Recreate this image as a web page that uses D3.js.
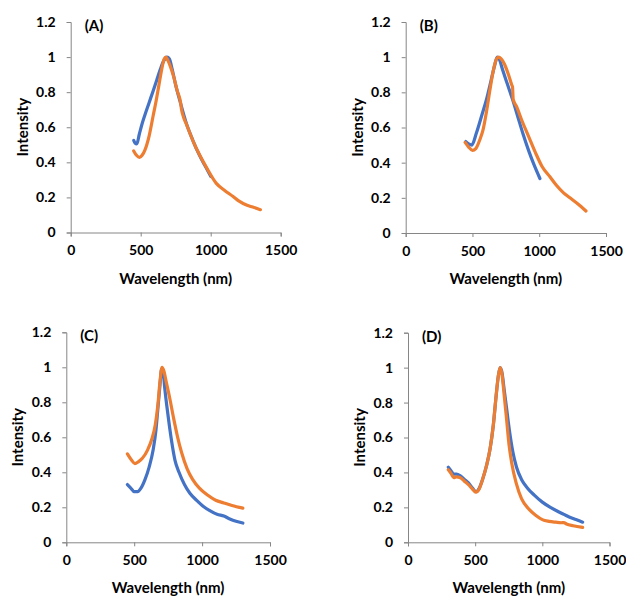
<!DOCTYPE html>
<html>
<head>
<meta charset="utf-8">
<script src="https://cdnjs.cloudflare.com/ajax/libs/d3/7.8.5/d3.min.js"></script>
<style>
  body { margin: 0; background: #fff; }
  svg text { font-family: Lato, "Open Sans", sans-serif; font-weight: bold; fill: #000; }
</style>
</head>
<body>
<svg id="chart" width="626" height="596"></svg>
<script>
// [wavelength nm, intensity]
const aBlue = [[450,0.525],[460,0.51],[472,0.505],[490,0.56],[510,0.62],[530,0.67],[560,0.74],[590,0.81],[615,0.87],[640,0.93],[665,0.98],[688,1.0],[705,0.99],[725,0.93],[750,0.84],[780,0.75],[827,0.62],[870,0.53],[920,0.44],[960,0.38],[1000,0.32]];
const aOrange = [[450,0.465],[470,0.44],[492,0.428],[510,0.44],[530,0.47],[560,0.55],[590,0.67],[610,0.75],[630,0.84],[650,0.93],[668,0.99],[680,1.0],[695,0.98],[715,0.94],[735,0.89],[760,0.81],[785,0.74],[792,0.70],[805,0.66],[830,0.61],[851,0.567],[880,0.51],[922,0.44],[970,0.37],[1040,0.28],[1100,0.24],[1160,0.205],[1200,0.18],[1260,0.155],[1300,0.145],[1355,0.13]];

const bBlue = [[450,0.52],[475,0.505],[495,0.50],[530,0.57],[570,0.67],[605,0.76],[640,0.87],[665,0.95],[685,1.0],[700,0.99],[725,0.93],[760,0.85],[800,0.76],[840,0.66],[880,0.56],[920,0.47],[960,0.39],[1005,0.31]];
const bOrange = [[445,0.515],[470,0.49],[500,0.47],[525,0.48],[555,0.53],[580,0.59],[605,0.69],[630,0.81],[655,0.92],[680,0.99],[695,1.0],[715,0.99],[740,0.96],[770,0.90],[795,0.84],[800,0.83],[805,0.76],[830,0.72],[870,0.64],[920,0.55],[970,0.46],[1020,0.38],[1080,0.32],[1130,0.27],[1180,0.23],[1230,0.20],[1290,0.165],[1350,0.125]];

const cBlue = [[450,0.33],[475,0.31],[500,0.29],[525,0.29],[550,0.31],[580,0.36],[610,0.43],[640,0.53],[660,0.64],[675,0.77],[690,0.90],[702,0.99],[712,0.98],[725,0.88],[740,0.78],[755,0.69],[775,0.58],[800,0.47],[830,0.40],[870,0.33],[910,0.28],[960,0.24],[1010,0.205],[1060,0.18],[1110,0.16],[1160,0.15],[1200,0.135],[1250,0.12],[1300,0.11]];
const cOrange = [[450,0.505],[480,0.47],[505,0.45],[530,0.46],[560,0.48],[600,0.53],[630,0.59],[655,0.67],[675,0.79],[690,0.92],[705,1.0],[718,0.98],[735,0.92],[760,0.83],[790,0.71],[820,0.60],[850,0.51],[890,0.42],[930,0.36],[980,0.31],[1040,0.27],[1100,0.24],[1160,0.225],[1220,0.21],[1300,0.195]];

const dBlue = [[300,0.43],[320,0.41],[340,0.39],[360,0.39],[390,0.38],[420,0.36],[450,0.34],[480,0.31],[505,0.29],[530,0.31],[555,0.36],[585,0.44],[612,0.54],[635,0.67],[655,0.83],[672,0.95],[686,1.0],[700,0.97],[715,0.88],[735,0.76],[755,0.64],[780,0.52],[808,0.43],[845,0.36],[890,0.31],[940,0.27],[1000,0.23],[1060,0.2],[1120,0.175],[1160,0.16],[1200,0.145],[1250,0.13],[1300,0.115]];
const dOrange = [[300,0.415],[320,0.395],[340,0.37],[360,0.375],[390,0.37],[420,0.35],[450,0.33],[480,0.305],[505,0.287],[530,0.305],[555,0.36],[585,0.44],[612,0.54],[635,0.67],[655,0.83],[672,0.95],[686,1.0],[700,0.96],[715,0.85],[732,0.72],[752,0.56],[773,0.45],[805,0.34],[845,0.25],[900,0.19],[950,0.155],[1000,0.13],[1050,0.12],[1100,0.115],[1140,0.112],[1160,0.113],[1180,0.105],[1230,0.095],[1300,0.085]];

const xTicks = [0, 500, 1000, 1500];
const yTicks = [0, 0.2, 0.4, 0.6, 0.8, 1, 1.2];
const panelLabels = ['(A)', '(B)', '(C)', '(D)'];
const seriesColors = ['#4472C4', '#ED7D31'];

// plot boxes in px: left, right, top, bottom
const panels = [
  { label: panelLabels[0], series: [aBlue, aOrange], x0: 70.7, x1: 280.7, y0: 22, y1: 232.5 },
  { label: panelLabels[1], series: [bBlue, bOrange], x0: 405.7, x1: 606, y0: 22, y1: 233 },
  { label: panelLabels[2], series: [cBlue, cOrange], x0: 66.3, x1: 270, y0: 332.3, y1: 542.3 },
  { label: panelLabels[3], series: [dBlue, dOrange], x0: 408, x1: 609.5, y0: 332.7, y1: 542.3 }
];

const svg = d3.select('#chart');

panels.forEach(p => {
  const x = d3.scaleLinear().domain([0, 1500]).range([p.x0, p.x1]);
  const y = d3.scaleLinear().domain([0, 1.2]).range([p.y1, p.y0]);
  const g = svg.append('g');

  const xAxis = g.append('g')
    .attr('transform', `translate(0,${p.y1})`)
    .call(d3.axisBottom(x).tickValues(xTicks).tickSize(4).tickPadding(9).tickFormat(d3.format('d')));
  const yAxis = g.append('g')
    .attr('transform', `translate(${p.x0},0)`)
    .call(d3.axisLeft(y).tickValues(yTicks).tickSize(4).tickPadding(11).tickFormat(d => String(+d.toFixed(1))));

  [xAxis, yAxis].forEach(a => {
    a.select('.domain').attr('stroke', '#868686');
    a.selectAll('.tick line').attr('stroke', '#868686');
    a.selectAll('.tick text').style('font-size', '14px');
  });

  const line = d3.line()
    .x(d => x(d[0]))
    .y(d => y(d[1]))
    .curve(d3.curveMonotoneX);

  p.series.forEach((s, i) => {
    g.append('path')
      .datum(s)
      .attr('d', line)
      .attr('fill', 'none')
      .attr('stroke', seriesColors[i])
      .attr('stroke-width', 3.2)
      .attr('stroke-linejoin', 'round')
      .attr('stroke-linecap', 'round');
  });

  g.append('text')
    .attr('x', p.x0 + 14)
    .attr('y', p.y0 + 9)
    .style('font-size', '15px')
    .text(p.label);

  g.append('text')
    .attr('x', (p.x0 + p.x1) / 2)
    .attr('y', p.y1 + 51)
    .attr('text-anchor', 'middle')
    .style('font-size', '15px')
    .text('Wavelength (nm)');

  g.append('text')
    .attr('transform', `translate(${p.x0 - 43},${(p.y0 + p.y1) / 2}) rotate(-90)`)
    .attr('text-anchor', 'middle')
    .style('font-size', '15px')
    .text('Intensity');
});
</script>
</body>
</html>
